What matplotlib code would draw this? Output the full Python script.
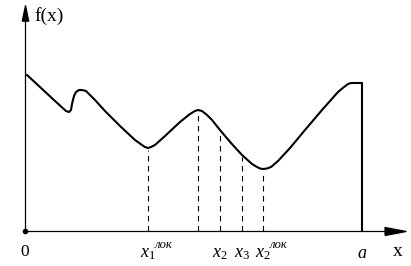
import matplotlib.pyplot as plt

plt.rcParams['mathtext.fontset'] = 'custom'
plt.rcParams['mathtext.rm'] = 'Liberation Serif'
plt.rcParams['mathtext.it'] = 'Liberation Serif:italic'

# curve f(x)
curve_x = [2, 15, 30, 41, 44, 46, 47, 49, 51, 54, 57, 61, 70, 80, 95, 110, 117, 120, 123, 126, 130,
           140, 155, 165, 170, 173, 177, 182, 187, 195, 206, 217, 227, 232, 235, 238, 242, 246, 253,
           265, 280, 297, 313, 319, 323, 326, 337, 337]
curve_y = [156, 144, 130, 120, 119, 121, 127, 135, 139, 141, 141, 140, 131, 120, 105, 91, 86, 84, 83, 84, 86,
           95, 109, 117, 120, 121, 120, 116, 111, 101, 88, 76, 67, 64, 62.5, 62, 62.5, 64, 70,
           83, 101, 121, 139, 144, 147, 148, 148, 0]

# dashed drops
drop_x = [123, 173, 195, 217, 238]
drop_y = [81, 119, 99, 74, 60]

a = 337
label_x = [123, 195, 217, 238, a]
label_base = [r'$x_1$', r'$x_2$', r'$x_3$', r'$x_2$', r'$a$']
label_sup = ['лок', '', '', 'лок', '']

fig = plt.figure(figsize=(4.11, 2.66), dpi=100)
ax = fig.add_axes([0, 0, 1, 1])
ax.set_xlim(-25, 386)
ax.set_ylim(-35, 231)
ax.axis('off')

# axes lines + arrow heads (custom triangle markers)
ax.plot([0, 370], [0, 0], color='black', lw=0.9)
ax.plot([0, 0], [0, 218], color='black', lw=0.9)
right_head = [(-1, -0.38), (1, 0), (-1, 0.38), (-1, -0.38)]
up_head = [(-0.42, -1), (0, 1), (0.42, -1), (-0.42, -1)]
ax.plot([370], [0], marker=right_head, markersize=15, color='black', linestyle='none', zorder=6)
ax.plot([0], [218], marker=up_head, markersize=11, color='black', linestyle='none', zorder=6)
ax.plot([0], [0], 'o', color='black', markersize=3)

ax.plot(curve_x, curve_y, color='black', lw=1.5, solid_joinstyle='round')

for xv, yv in zip(drop_x, drop_y):
    ax.plot([xv, xv], [0, yv], color='black', lw=0.8, linestyle=(0, (5, 4)))

for xv, base, sup in zip(label_x, label_base, label_sup):
    ax.text(xv, -22, base, fontsize=13, ha='center', va='center')
    if sup:
        ax.annotate(sup, (xv, -22), xytext=(5, 6), textcoords='offset points',
                    fontsize=9, ha='left', va='center', style='italic', family='Liberation Serif')

ax.text(0, -21, '0', fontsize=12.5, ha='center', va='center', family='Liberation Serif')
ax.text(373, -21, 'x', fontsize=14, ha='center', va='center', family='Liberation Serif')
ax.text(9, 215, 'f(x)', fontsize=14, ha='left', va='center', family='Liberation Serif')

fig.savefig('out.png', dpi=100)
